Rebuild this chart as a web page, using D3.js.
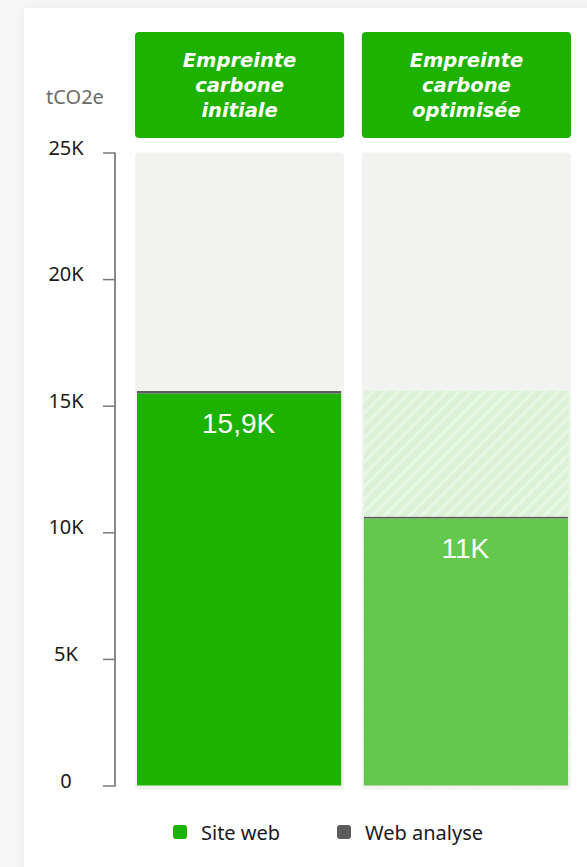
<!DOCTYPE html>
<html>
<head>
<meta charset="utf-8">
<script src="https://cdn.jsdelivr.net/npm/d3@7"></script>
<style>
  html, body { margin: 0; padding: 0; background: #f7f7f7; }
  body { width: 587px; height: 867px; overflow: hidden; position: relative; }
  #card { position: absolute; left: 24px; top: 8px; width: 620px; height: 900px; background: #fff;
          box-shadow: 0 0 14px rgba(0,0,0,0.05); }
  svg { position: absolute; left: 0; top: 0; }
</style>
</head>
<body>
<div id="card"></div>
<svg id="chart" width="587" height="867"></svg>
<script>
// ---- data ----
const categories = ["initiale", "optimisee"];
const headerLines = [["Empreinte", "carbone", "initiale"], ["Empreinte", "carbone", "optimisée"]];
const siteWeb = [15480, 10550];
const webAnalyse = [100, 60];
const valueLabels = ["15,9K", "11K"];
const yTicks = [0, 5000, 10000, 15000, 20000, 25000];
const yTickLabels = ["0", "5K", "10K", "15K", "20K", "25K"];
const legendNames = ["Site web", "Web analyse"];
const unitLabel = "tCO2e";

// ---- style ----
const GREEN = "#1db100", GREEN_LIGHT = "#64c74e", GRAY = "#5b5b5b", BG = "#f2f2f1";

const svg = d3.select("#chart");
const x = d3.scaleBand().domain(categories).range([135, 571]).paddingInner(0.078);
const y = d3.scaleLinear().domain([0, 25000]).range([785.5, 152.5]);

// hatch pattern
const defs = svg.append("defs");
const pat = defs.append("pattern").attr("id", "hatch").attr("patternUnits", "userSpaceOnUse")
  .attr("width", 8.7).attr("height", 8.7).attr("patternTransform", "rotate(45)");
pat.append("rect").attr("width", 8.7).attr("height", 8.7).attr("fill", "#dcf2d6");
pat.append("rect").attr("width", 3).attr("height", 8.7).attr("fill", "#e9f7e6");

// headers
const hdr = svg.append("g");
categories.forEach((c, i) => {
  hdr.append("rect").attr("x", x(c)).attr("y", 32).attr("width", x.bandwidth()).attr("height", 106)
    .attr("rx", 4).attr("fill", GREEN);
  headerLines[i].forEach((t, j) => {
    hdr.append("text").attr("x", x(c) + x.bandwidth() / 2).attr("y", 67 + j * 25)
      .attr("text-anchor", "middle").attr("fill", "#fff")
      .style("font-family", "'DejaVu Sans'").style("font-weight", "bold").style("font-style", "oblique")
      .style("font-size", "19.5px").text(t);
  });
});

// unit label
svg.append("text").attr("x", 75).attr("y", 96).attr("text-anchor", "middle")
  .attr("dominant-baseline", "central").attr("fill", "#6b6b6b")
  .style("font-family", "'Noto Sans'").style("font-size", "20px").text(unitLabel);

// bar backgrounds
svg.append("g").selectAll("rect").data(categories).join("rect")
  .attr("x", d => x(d)).attr("y", y(25000)).attr("width", x.bandwidth())
  .attr("height", y(0) - y(25000) + 4).attr("rx", 4).attr("fill", BG);

const inset = 2;
// hatched reference (initial total) on optimised bar
const initTotal = siteWeb[0] + webAnalyse[0];
svg.append("rect").attr("x", x(categories[1]) + inset).attr("width", x.bandwidth() - 2 * inset)
  .attr("y", y(initTotal)).attr("height", y(0) - y(initTotal)).attr("fill", "url(#hatch)");

// site web bars
svg.append("g").selectAll("rect").data(categories).join("rect")
  .attr("x", d => x(d) + inset).attr("width", x.bandwidth() - 2 * inset - 1)
  .attr("y", (d, i) => y(siteWeb[i])).attr("height", (d, i) => y(0) - y(siteWeb[i]))
  .attr("fill", (d, i) => i === 0 ? GREEN : GREEN_LIGHT);

// web analyse segments
svg.append("g").selectAll("rect").data(categories).join("rect")
  .attr("x", d => x(d) + inset).attr("width", x.bandwidth() - 2 * inset - 1)
  .attr("y", (d, i) => y(siteWeb[i] + webAnalyse[i]))
  .attr("height", (d, i) => y(siteWeb[i]) - y(siteWeb[i] + webAnalyse[i]))
  .attr("fill", GRAY);

// value labels
svg.append("g").selectAll("text").data(categories).join("text")
  .attr("x", d => x(d) + x.bandwidth() / 2 - 1)
  .attr("y", (d, i) => y(siteWeb[i]) + 30)
  .attr("text-anchor", "middle").attr("dominant-baseline", "central").attr("fill", "#fff")
  .style("font-family", "'Liberation Sans'").style("font-size", "28px")
  .text((d, i) => valueLabels[i]);

// y axis
const axis = d3.axisLeft(y).tickValues(yTicks).tickSize(12).tickPadding(0)
  .tickFormat((d, i) => yTickLabels[i]);
const ag = svg.append("g").attr("transform", "translate(115,0)").call(axis);
ag.select(".domain").attr("d", `M0,${y(25000)}V${y(0) + 1}`).attr("stroke", "#8a8a8a").attr("stroke-width", 2);
ag.selectAll(".tick line").attr("stroke", "#7a7a7a").attr("stroke-width", 1.5);
ag.selectAll(".tick text").attr("x", -49).attr("y", -6).attr("dy", null)
  .attr("text-anchor", "middle").attr("dominant-baseline", "central").attr("fill", "#1a1a1a")
  .style("font-family", "'Noto Sans'").style("font-size", "20px");

// legend
const legendX = [173, 337];
const lg = svg.append("g");
legendNames.forEach((n, i) => {
  lg.append("rect").attr("x", legendX[i]).attr("y", 825).attr("width", 14).attr("height", 14)
    .attr("rx", 3).attr("fill", i === 0 ? GREEN : GRAY);
  lg.append("text").attr("x", legendX[i] + 28).attr("y", 832).attr("dominant-baseline", "central")
    .attr("fill", "#1a1a1a").style("font-family", "'Noto Sans'").style("font-size", "20px").text(n);
});
</script>
</body>
</html>
